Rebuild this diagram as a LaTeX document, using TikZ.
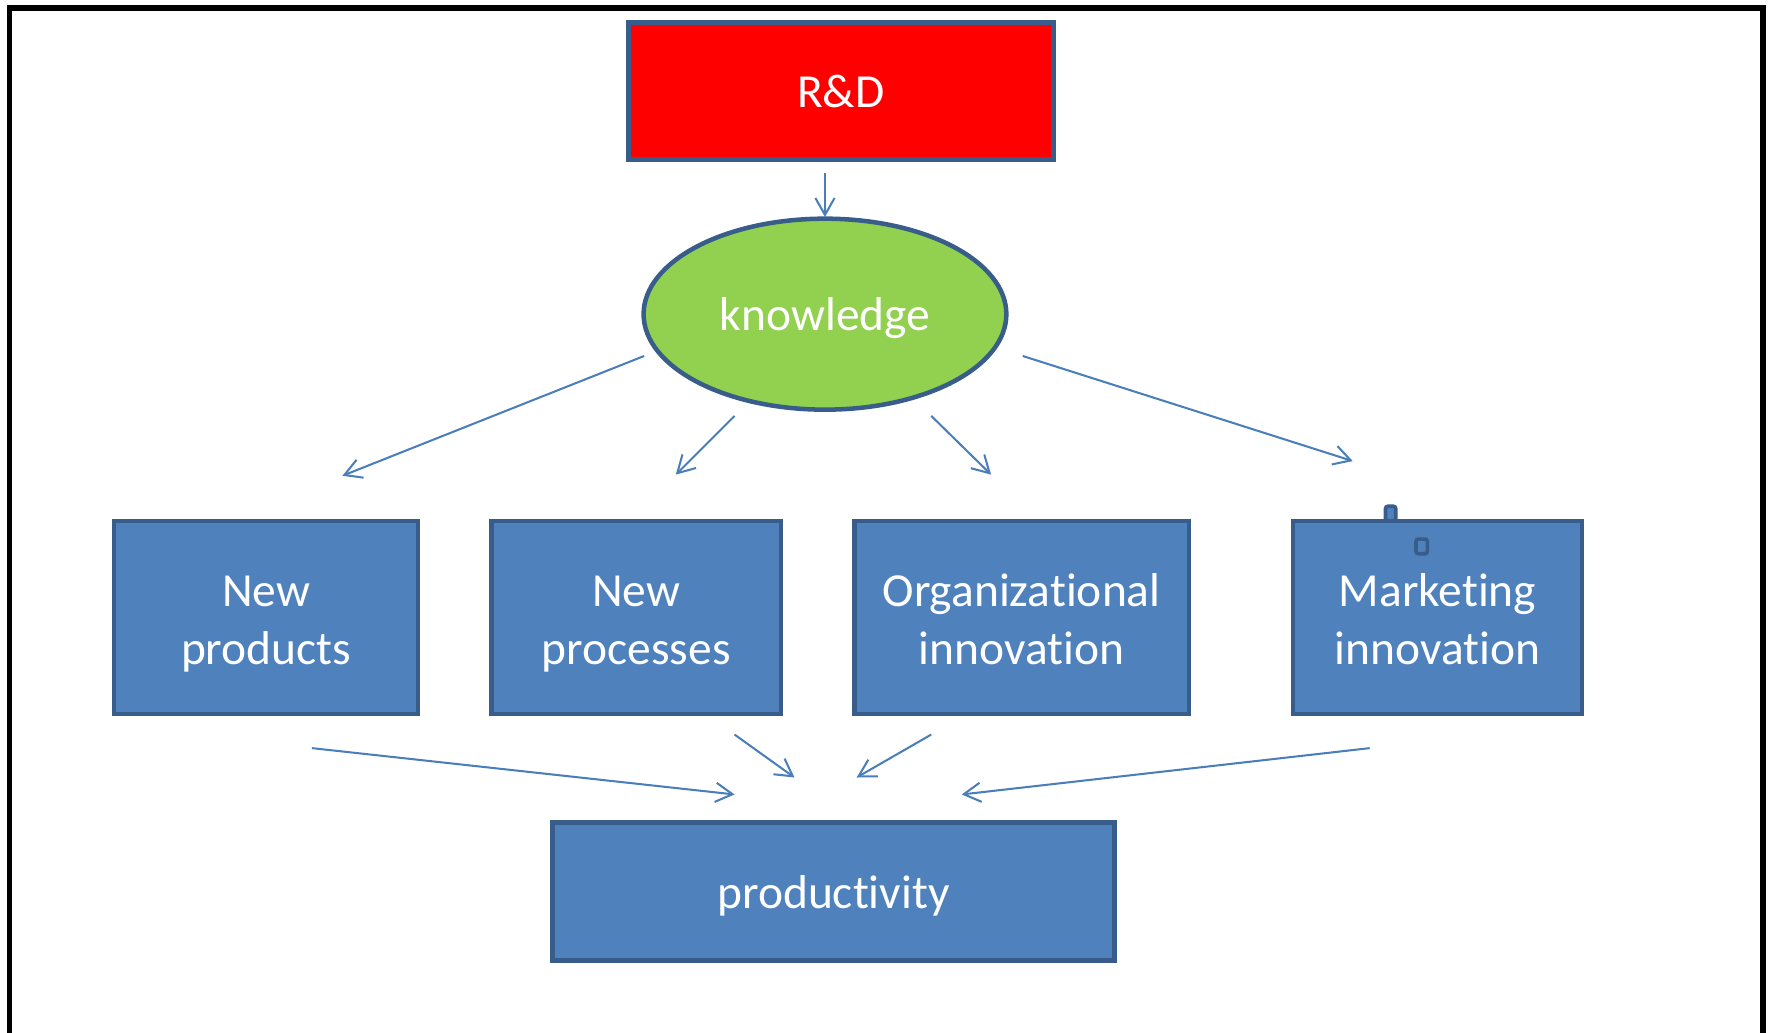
\documentclass[tikz,border=0pt]{standalone}
\usepackage{fontspec}
\setmainfont{Carlito}[Ligatures=NoCommon]
\usetikzlibrary{shapes.geometric,arrows.meta}
\definecolor{boxfill}{HTML}{4F81BD}
\definecolor{boxline}{HTML}{385D8A}
\definecolor{arrowcol}{HTML}{4A7EBB}
\definecolor{rdred}{HTML}{FF0000}
\definecolor{kgreen}{HTML}{92D050}
\newcommand{\twolines}[2]{\rule{0pt}{21pt}#1\\#2\rule[-5pt]{0pt}{5pt}}
\newcommand{\oneline}[1]{\rule{0pt}{19.5pt}#1\rule[-5pt]{0pt}{5pt}}
\begin{document}
\begin{tikzpicture}[x=0.5pt,y=-0.5pt,
  boxstyle/.style={draw=boxline,line width=2pt,fill=boxfill,text=white,
    inner sep=0pt,align=center,font=\fontsize{21}{25.5}\selectfont},
  flow/.style={draw=arrowcol,line width=0.9pt,
    -{Straight Barb[length=7.5pt,width=8.5pt,line width=0.9pt]}},
  tiny/.style={draw=boxline,line width=1.6pt,fill=boxfill,rounded corners=1pt}]
\useasboundingbox (0,0) rectangle (1568,914);
% outer frame (open at the bottom)
\draw[line width=2.3pt,black] (8.5,920) -- (8.5,7) -- (1560,7) -- (1560,920);
% nodes
\node[boxstyle,fill=rdred,minimum width=188pt,minimum height=60.5pt] (rd) at (744,80.5) {R\&D};
\node[boxstyle,fill=kgreen,ellipse,minimum width=160.5pt,minimum height=84.5pt] (know) at (730,278) {\oneline{knowledge}};
\node[boxstyle,minimum width=134.5pt,minimum height=85.5pt] (prod) at (235.5,546.5) {\twolines{New}{products}};
\node[boxstyle,minimum width=128pt,minimum height=85.5pt] (proc) at (563,546.5) {\twolines{New}{processes}};
\node[boxstyle,minimum width=148pt,minimum height=85.5pt] (org) at (904,546.5) {\twolines{Organizational}{innovation}};
\node[boxstyle,minimum width=128pt,minimum height=85.5pt] (mkt) at (1272,546.5) {\twolines{Marketing}{innovation}};
\node[boxstyle,minimum width=248.5pt,minimum height=61pt] (pty) at (737.5,789) {\oneline{productivity}};
% small handle marks on the marketing box
\draw[tiny] (1226,448) rectangle (1235,461);
\draw[tiny] (1253,477) rectangle (1263,490);
% arrow end points
\coordinate (a1s) at (730,153); \coordinate (a1e) at (730,192);
\coordinate (a2s) at (570,315); \coordinate (a2e) at (303,421);
\coordinate (a3s) at (650,368); \coordinate (a3e) at (598,420);
\coordinate (a4s) at (824,368); \coordinate (a4e) at (877,420);
\coordinate (a5s) at (905,315); \coordinate (a5e) at (1197,408);
\coordinate (b1s) at (276,662); \coordinate (b1e) at (650,703);
\coordinate (b2s) at (650,650); \coordinate (b2e) at (703,688);
\coordinate (b3s) at (824,650); \coordinate (b3e) at (758,688);
\coordinate (b4s) at (1212,662); \coordinate (b4e) at (851,703);
\draw[flow] (a1s) -- (a1e);
\draw[flow] (a2s) -- (a2e);
\draw[flow] (a3s) -- (a3e);
\draw[flow] (a4s) -- (a4e);
\draw[flow] (a5s) -- (a5e);
\draw[flow] (b1s) -- (b1e);
\draw[flow] (b2s) -- (b2e);
\draw[flow] (b3s) -- (b3e);
\draw[flow] (b4s) -- (b4e);
\end{tikzpicture}
\end{document}
